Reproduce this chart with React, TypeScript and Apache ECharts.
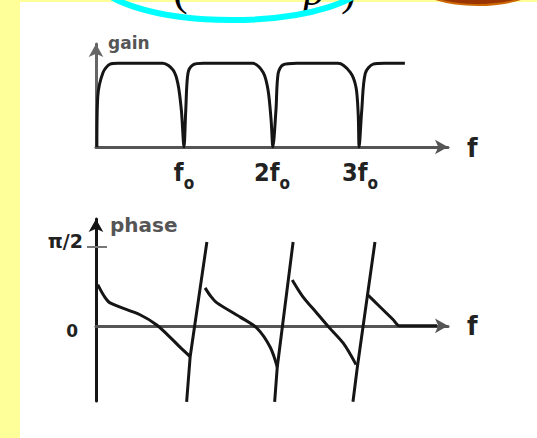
import { useEffect, useRef } from "react";
import * as echarts from "echarts";

// Comb-filter response sketch: gain and phase against frequency (f in units of f0).

// Gain |H(f)| (0 = notch, 1 = pass level)
const gainCurve: [number, number][] = [
  [0.01, 0], [0.02, 0.6], [0.08, 0.89], [0.16, 0.99], [0.25, 1.0], [0.76, 1.0],
  [0.875, 0.92], [0.93, 0.76], [0.97, 0.44], [1.0, 0],
  [1.02, 0.44], [1.045, 0.88], [1.1, 0.98], [1.22, 1.0], [1.78, 1.0],
  [1.9, 0.89], [1.955, 0.68], [1.99, 0.32], [2.01, 0],
  [2.045, 0.44], [2.07, 0.88], [2.125, 0.98], [2.28, 1.0], [2.75, 1.0],
  [2.89, 0.89], [2.955, 0.71], [2.98, 0.38], [2.99, 0],
  [3.02, 0.44], [3.06, 0.88], [3.15, 0.99], [3.28, 1.0], [3.51, 1.0],
];

// Phase branches, in units of pi/2
const phaseBranch1: [number, number][] = [
  [0.02, 0.52], [0.09, 0.38], [0.16, 0.29], [0.5, 0.14], [0.69, 0.01],
  [0.875, -0.18], [0.955, -0.27], [1.07, -0.39],
];
const phaseBranch2: [number, number][] = [
  [1.24, 0.48], [1.3, 0.38], [1.375, 0.29], [1.64, 0.11], [1.83, -0.03],
  [1.98, -0.27], [2.06, -0.52],
];
const phaseBranch3: [number, number][] = [
  [2.23, 0.58], [2.35, 0.37], [2.51, 0.16], [2.64, -0.01], [2.81, -0.22],
  [2.955, -0.49],
];
const phaseBranch4: [number, number][] = [
  [3.09, 0.39], [3.2, 0.27], [3.375, 0.08], [3.45, 0], [3.875, 0],
];

// Phase jumps at the notch frequencies
const phaseJump1: [number, number][] = [[1.03, -0.96], [1.07, -0.39], [1.26, 1.06]];
const phaseJump2: [number, number][] = [[2.03, -0.96], [2.06, -0.52], [2.24, 1.06]];
const phaseJump3: [number, number][] = [[2.92, -0.96], [2.97, -0.52], [3.17, 1.06]];

// Frequency ticks on the gain axis
const gainTicks = [1, 2, 3];
const gainTickText = ["f", "2f", "3f"];
const gainTickSub = "o";

// Phase ticks (units of pi/2)
const phaseTicks = [0, 1];
const phaseTickText = ["0", "π/2"];

const NARROW = "'Liberation Sans Narrow', 'DejaVu Sans Condensed', 'Liberation Sans', sans-serif";
const WIDE = "'DejaVu Sans', sans-serif";
const INK = "#151515";

export default function App() {
  const ref = useRef<HTMLDivElement>(null);

  useEffect(() => {
    if (!ref.current) return;
    const chart = echarts.init(ref.current, undefined, { renderer: "svg" });

    const lineSeries = (data: [number, number][], grid: number, smooth: number) => ({
      type: "line",
      xAxisIndex: grid,
      yAxisIndex: grid,
      data,
      showSymbol: false,
      smooth,
      lineStyle: { color: INK, width: 3 },
      silent: true,
    });

    const arrowLine = (color: string) => ({
      show: true,
      onZero: true,
      symbol: ["none", "arrow"],
      symbolSize: [11, 13],
      lineStyle: { color, width: 3 },
    });

    const serifText = (text: string, x: number, italic: boolean) => ({
      type: "text", x, y: -10, z: 5,
      style: {
        text, fontSize: 44, fontStyle: italic ? "italic" : "normal",
        fontFamily: "'Liberation Serif', serif", fill: "#000",
        verticalAlign: "middle", textVerticalAlign: "middle",
      },
    });

    chart.setOption({
      animation: false,
      backgroundColor: "#FFFF99",
      graphic: [
        { type: "rect", z: -10, silent: true, shape: { x: 20, y: 2, width: 517, height: 436 }, style: { fill: "#ffffff" } },
        serifText("(", 173, false),
        serifText("p", 303, true),
        serifText(")", 341, false),
        {
          type: "ellipse", z: 6, silent: true,
          shape: { cx: 232, cy: -24, rx: 137, ry: 44 },
          style: { fill: "none", stroke: "#00FFFF", lineWidth: 6 },
        },
        {
          type: "ellipse", z: 6, silent: true,
          shape: { cx: 478, cy: -30, rx: 76, ry: 35 },
          style: { fill: "#993300", stroke: "#CC6600", lineWidth: 2 },
        },
      ],
      grid: [
        { left: 96, top: 44, width: 352, height: 103 },
        { left: 96, top: 219, width: 352, height: 182 },
      ],
      xAxis: [
        {
          gridIndex: 0, type: "value", min: 0, max: 4,
          axisLine: arrowLine("#555"),
          axisTick: { show: false },
          splitLine: { show: false },
          axisLabel: {
            show: true,
            customValues: gainTicks,
            margin: 13,
            formatter: (v: number) => {
              const i = gainTicks.findIndex((t) => Math.abs(t - v) < 1e-6);
              return i < 0 ? "" : `{f|${gainTickText[i]}}{s|${gainTickSub}}`;
            },
            rich: {
              f: { fontSize: 25, fontWeight: "bold", fontFamily: NARROW, color: "#222", verticalAlign: "top" },
              s: { fontSize: 17, fontWeight: "bold", fontFamily: NARROW, color: "#222", verticalAlign: "top", padding: [14, 0, 0, 0] },
            },
          },
          name: "f", nameLocation: "end", nameGap: 19,
          nameTextStyle: { fontSize: 27, fontWeight: "bold", fontFamily: NARROW, color: "#222", verticalAlign: "middle" },
        },
        {
          gridIndex: 1, type: "value", min: 0, max: 4,
          axisLine: arrowLine("#555"),
          axisTick: { show: false },
          splitLine: { show: false },
          axisLabel: { show: false },
          name: "f", nameLocation: "end", nameGap: 19,
          nameTextStyle: { fontSize: 27, fontWeight: "bold", fontFamily: NARROW, color: "#222", verticalAlign: "middle" },
        },
      ],
      yAxis: [
        {
          gridIndex: 0, type: "value", min: 0, max: 1.23, position: "left",
          axisLine: arrowLine("#666"),
          axisTick: { show: false },
          splitLine: { show: false },
          axisLabel: { show: false },
          name: "gain", nameLocation: "end", nameGap: 10,
          nameTextStyle: { fontSize: 17, fontWeight: "bold", fontFamily: WIDE, color: "#555", align: "left", verticalAlign: "top", padding: [0, 0, 0, 12] },
        },
        {
          gridIndex: 1, type: "value", min: -0.95, max: 1.35, position: "left",
          axisLine: arrowLine(INK),
          axisTick: { show: true, customValues: [1], length: 9, lineStyle: { color: "#777", width: 2 } },
          splitLine: { show: false },
          axisLabel: {
            show: true,
            customValues: phaseTicks,
            margin: 13,
            formatter: (v: number) => {
              const i = phaseTicks.findIndex((t) => Math.abs(t - v) < 1e-6);
              if (i < 0) return "";
              return v === 0 ? `{z|${phaseTickText[i]}}` : `{h|${phaseTickText[i]}}`;
            },
            rich: {
              h: { fontSize: 19, fontWeight: "bold", fontFamily: WIDE, color: "#222", padding: [0, 0, 12, 0] },
              z: { fontSize: 17, fontWeight: "bold", fontFamily: WIDE, color: "#222", padding: [10, 5, 0, 0] },
            },
          },
          name: "phase", nameLocation: "end", nameGap: 4,
          nameTextStyle: { fontSize: 20, fontWeight: "bold", fontFamily: WIDE, color: "#555", align: "left", verticalAlign: "top", padding: [0, 0, 0, 14] },
        },
        {
          // inner half of the pi/2 tick mark
          gridIndex: 1, type: "value", min: -0.95, max: 1.35, position: "left", offset: 0,
          axisLine: { show: false, onZero: false },
          axisTick: { show: true, inside: true, customValues: [1], length: 11, lineStyle: { color: "#777", width: 2 } },
          splitLine: { show: false },
          axisLabel: { show: false },
        },
      ],
      series: [
        lineSeries(gainCurve, 0, 0.3),
        lineSeries(phaseBranch1, 1, 0.3),
        lineSeries(phaseBranch2, 1, 0.3),
        lineSeries(phaseBranch3, 1, 0.3),
        lineSeries(phaseBranch4, 1, 0.3),
        lineSeries(phaseJump1, 1, 0),
        lineSeries(phaseJump2, 1, 0),
        lineSeries(phaseJump3, 1, 0),
      ],
    });

    return () => chart.dispose();
  }, []);

  return (
    <div
      ref={ref}
      style={{ position: "fixed", left: 0, top: 0, width: 537, height: 438 }}
    />
  );
}
